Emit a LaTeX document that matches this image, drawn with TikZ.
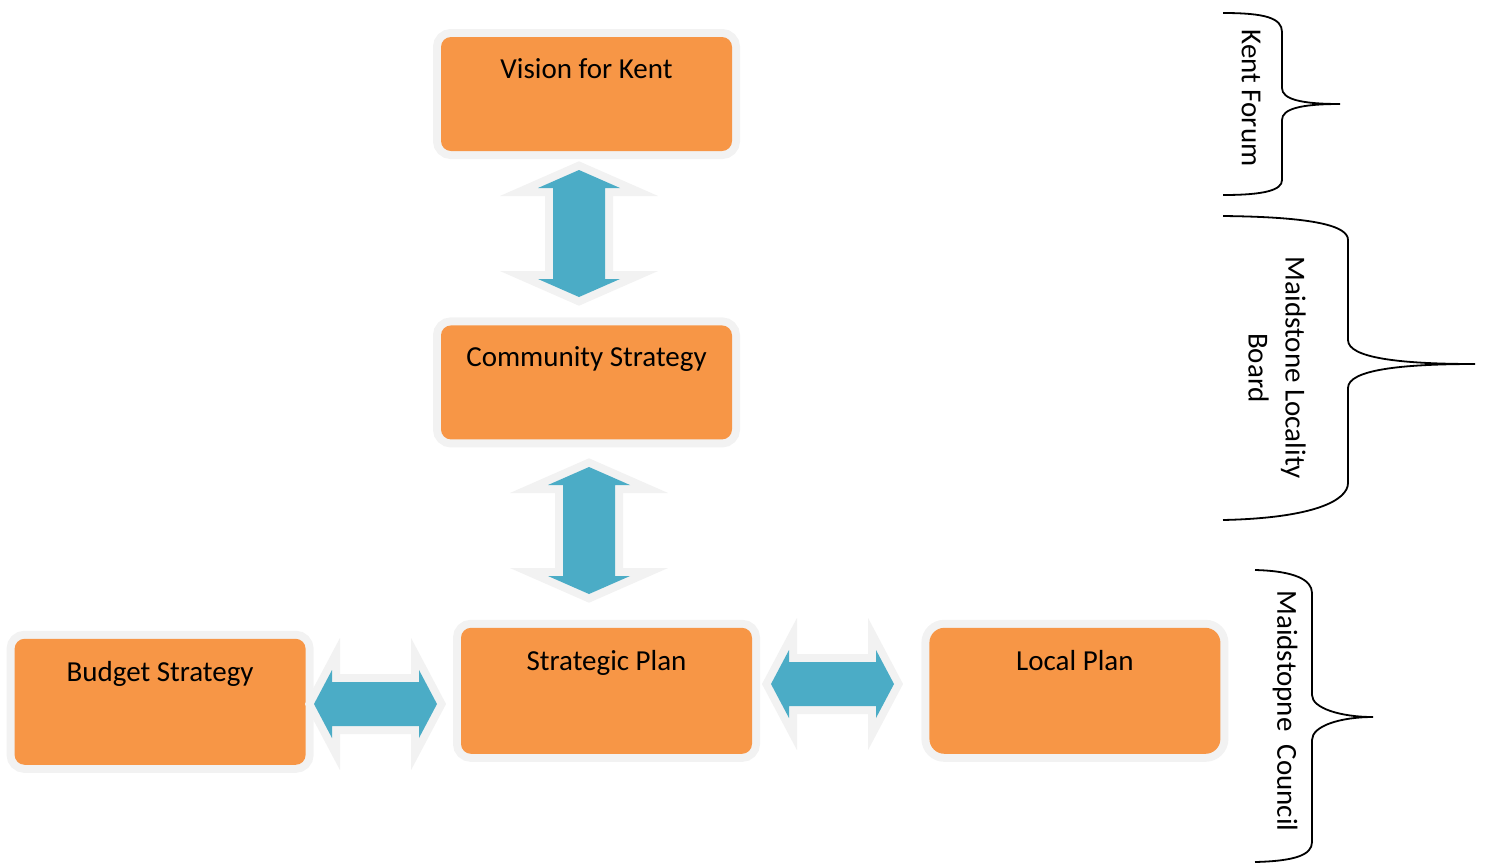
\documentclass[tikz,border=0pt]{standalone}
\usepackage{fontspec}
\setmainfont{Carlito}
\usetikzlibrary{positioning,calc}

\definecolor{boxorange}{HTML}{F79646}
\definecolor{arrowblue}{HTML}{4BACC6}
\definecolor{halogray}{HTML}{F2F2F2}

% two-headed block arrows, given by their two tips
\newcommand{\vtwoway}[2]{%
\path [twoway] (#1) -- ($(#1)+(41,18)$) -- ($(#1)+(26,18)$) -- ($(#2)+(26,-18)$) -- ($(#2)+(41,-18)$) -- (#2)
	-- ($(#2)+(-41,-18)$) -- ($(#2)+(-26,-18)$) -- ($(#1)+(-26,18)$) -- ($(#1)+(-41,18)$) -- cycle;}
\newcommand{\htwoway}[2]{%
\path [twoway] (#1) -- ($(#1)+(18,-34)$) -- ($(#1)+(18,-22)$) -- ($(#2)+(-18,-22)$) -- ($(#2)+(-18,-34)$) -- (#2)
	-- ($(#2)+(-18,34)$) -- ($(#2)+(-18,22)$) -- ($(#1)+(18,22)$) -- ($(#1)+(18,34)$) -- cycle;}

\begin{document}
\begin{tikzpicture}[x=1pt, y=-1pt,
every node/.style={font=\fontsize{29}{37}\selectfont},
box/.style={ rectangle, rounded corners=10pt, fill=boxorange, preaction={draw=halogray, line width=16pt}, minimum width=291pt, inner sep=0pt, text height=41pt, text depth=73pt },
lowbox/.style={ box, text height=43pt, text depth=83pt },
twoway/.style={ fill=arrowblue, preaction={draw=halogray, line width=16pt, line join=miter} },
brace/.style={ draw=black, line width=1.8pt },
side/.style={ rotate=-90, align=center }]

\useasboundingbox (0,0) rectangle (1485,863);

\node (vision) [box] at (586.5,94) {Vision for Kent};
\node (community) [box, below = 174pt of vision] {Community Strategy};
\node (strategic) [lowbox, below = 188pt of community, xshift=20pt] {Strategic Plan};
\node (budget) [lowbox, left = 155pt of strategic, yshift=-11pt] {Budget Strategy};
\node (local) [lowbox, right = 177pt of strategic, rounded corners=15pt] {Local Plan};

%block arrows between the boxes
\coordinate (a1top) at (579,170);
\coordinate (a1bot) at (579,297);
\coordinate (a2top) at (589,467);
\coordinate (a2bot) at (589,594);
\coordinate (a3left) at (314,704);
\coordinate (a3right) at (437,704);
\coordinate (a4left) at (771,684);
\coordinate (a4right) at (894,684);
\vtwoway{a1top}{a1bot}
\vtwoway{a2top}{a2bot}
\htwoway{a3left}{a3right}
\htwoway{a4left}{a4right}

%braces on the right
\draw [brace] (1223,13) .. controls (1265,13) and (1282,18) .. (1282,32) -- (1282,88)
	.. controls (1282,99) and (1300,104) .. (1340,104) .. controls (1300,104) and (1282,109) .. (1282,120)
	-- (1282,180) .. controls (1282,190) and (1265,195) .. (1223,195);
\draw [brace] (1223,216) .. controls (1315,217) and (1348,226) .. (1348,240) -- (1348,340)
	.. controls (1348,358) and (1400,364) .. (1475,364) .. controls (1400,364) and (1348,370) .. (1348,388)
	-- (1348,483) .. controls (1348,500) and (1315,518) .. (1223,520);
\draw [brace] (1255,570) .. controls (1295,571) and (1312,580) .. (1312,593) -- (1312,695)
	.. controls (1312,708) and (1340,717) .. (1373,717) .. controls (1340,717) and (1312,726) .. (1312,740)
	-- (1312,842) .. controls (1312,855) and (1295,861) .. (1255,862);

\node (kentforum) [side] at (1251,98) {Kent Forum};
\node (locality) [side] at (1277,368) {Maidstone Locality\\Board};
\node (council) [side] at (1285,711) {Maidstopne\ \ Council};

\end{tikzpicture}
\end{document}
